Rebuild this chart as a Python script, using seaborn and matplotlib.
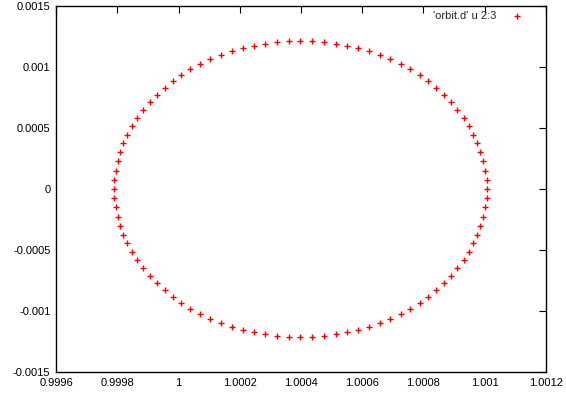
import matplotlib
matplotlib.use("Agg")
import matplotlib.pyplot as plt
import seaborn as sns
import pandas as pd

# orbit points ('orbit.d', columns 2 and 3)
orbit_x = [
    1.001007, 1.001006, 1.001001, 1.000995, 1.000986, 1.000976, 1.000963, 1.000948, 1.000931, 1.000911,
    1.000890, 1.000866, 1.000841, 1.000814, 1.000787, 1.000757, 1.000725, 1.000692, 1.000657, 1.000622,
    1.000586, 1.000549, 1.000513, 1.000474, 1.000436,
    1.000398, 1.000360, 1.000322, 1.000283, 1.000247, 1.000210, 1.000174, 1.000139, 1.000104, 1.000071,
    1.000039, 1.000009, 0.999982, 0.999955, 0.999930, 0.999906, 0.999885, 0.999865, 0.999848, 0.999833,
    0.999820, 0.999810, 0.999801, 0.999795, 0.999790,
    0.999789, 0.999790, 0.999795, 0.999801, 0.999810, 0.999820, 0.999833, 0.999848, 0.999865, 0.999885,
    0.999906, 0.999930, 0.999955, 0.999982, 1.000009, 1.000039, 1.000071, 1.000104, 1.000139, 1.000174,
    1.000210, 1.000247, 1.000283, 1.000322, 1.000360,
    1.000398, 1.000436, 1.000474, 1.000513, 1.000549, 1.000586, 1.000622, 1.000657, 1.000692, 1.000725,
    1.000757, 1.000787, 1.000814, 1.000841, 1.000866, 1.000890, 1.000911, 1.000931, 1.000948, 1.000963,
    1.000976, 1.000986, 1.000995, 1.001001, 1.001006,
]
orbit_y = [
    0.0, 0.0000762, 0.0001500, 0.0002270, 0.0003008, 0.0003746, 0.0004451, 0.0005164, 0.0005844, 0.0006500,
    0.0007131, 0.0007730, 0.0008303, 0.0008852, 0.0009344, 0.0009811, 0.0010246, 0.0010631, 0.0010984, 0.0011287,
    0.0011557, 0.0011746, 0.0011910, 0.0012025, 0.0012107,
    0.0012131, 0.0012107, 0.0012025, 0.0011910, 0.0011746, 0.0011557, 0.0011287, 0.0010984, 0.0010631, 0.0010246,
    0.0009811, 0.0009344, 0.0008852, 0.0008303, 0.0007730, 0.0007131, 0.0006500, 0.0005844, 0.0005164, 0.0004451,
    0.0003746, 0.0003008, 0.0002270, 0.0001500, 0.0000762,
    0.0, -0.0000762, -0.0001500, -0.0002270, -0.0003008, -0.0003746, -0.0004451, -0.0005164, -0.0005844, -0.0006500,
    -0.0007131, -0.0007730, -0.0008303, -0.0008852, -0.0009344, -0.0009811, -0.0010246, -0.0010631, -0.0010984, -0.0011287,
    -0.0011557, -0.0011746, -0.0011910, -0.0012025, -0.0012107,
    -0.0012131, -0.0012107, -0.0012025, -0.0011910, -0.0011746, -0.0011557, -0.0011287, -0.0010984, -0.0010631, -0.0010246,
    -0.0009811, -0.0009344, -0.0008852, -0.0008303, -0.0007730, -0.0007131, -0.0006500, -0.0005844, -0.0005164, -0.0004451,
    -0.0003746, -0.0003008, -0.0002270, -0.0001500, -0.0000762,
]

x_ticks = [0.9996, 0.9998, 1.0, 1.0002, 1.0004, 1.0006, 1.0008, 1.001, 1.0012]
x_labels = ["0.9996", "0.9998", "1", "1.0002", "1.0004", "1.0006", "1.0008", "1.001", "1.0012"]
y_ticks = [-0.0015, -0.001, -0.0005, 0.0, 0.0005, 0.001, 0.0015]
y_labels = ["-0.0015", "-0.001", "-0.0005", "0", "0.0005", "0.001", "0.0015"]

df = pd.DataFrame({"x": orbit_x, "y": orbit_y})

sns.set_style("white")
plt.rcParams["font.family"] = ["Liberation Sans", "DejaVu Sans"]

fig = plt.figure(figsize=(5.66, 3.98), dpi=100)
ax = fig.add_axes([56 / 566, 1 - 372 / 398, 490 / 566, 366 / 398])

sns.scatterplot(data=df, x="x", y="y", marker="+", color="red", s=22,
                linewidth=1.0, label="'orbit.d' u 2:3", ax=ax)

ax.set_xlim(0.9996, 1.0012)
ax.set_ylim(-0.0015, 0.0015)
ax.set_xticks(x_ticks)
ax.set_xticklabels(x_labels)
ax.set_yticks(y_ticks)
ax.set_yticklabels(y_labels)
ax.set_xlabel("")
ax.set_ylabel("")
ax.tick_params(direction="in", top=True, right=True, length=5, width=0.8,
               labelsize=8, pad=4, colors="black")
for sp in ax.spines.values():
    sp.set_visible(True)
    sp.set_color("black")
    sp.set_linewidth(1.0)

# gnuplot-style key: text first, sample marker to the right
leg = ax.legend(loc="upper right", frameon=False, markerfirst=False, fontsize=8,
                handletextpad=1.1, borderaxespad=0.3, handlelength=1.5,
                bbox_to_anchor=(1 - 13 / 490, 1 + 3 / 366))

fig.savefig("out.png", dpi=100)
